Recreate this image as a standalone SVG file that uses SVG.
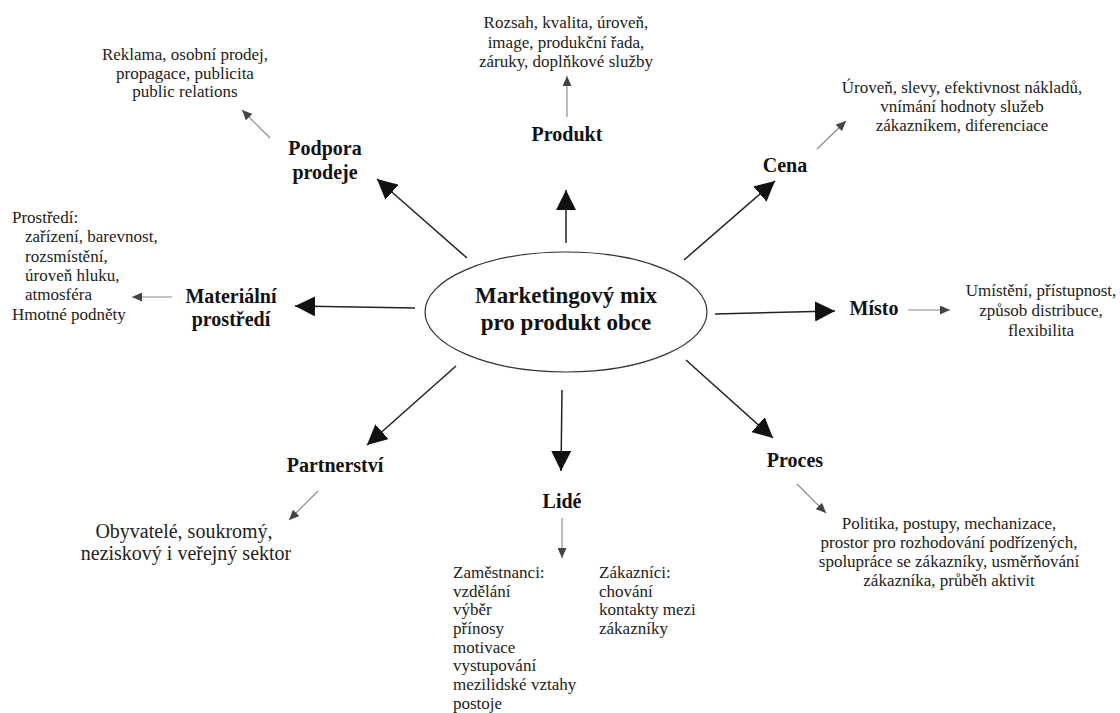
<svg xmlns="http://www.w3.org/2000/svg" width="1120" height="713" viewBox="0 0 1120 713">
<defs>
<marker id="big" markerUnits="userSpaceOnUse" markerWidth="20" markerHeight="20" refX="20" refY="10" orient="auto">
<path d="M0,0 L20,10 L0,20 z" fill="#111"/>
</marker>
<marker id="small" markerUnits="userSpaceOnUse" markerWidth="10" markerHeight="9" refX="10" refY="4.5" orient="auto">
<path d="M0,0 L10,4.5 L0,9 z" fill="#444"/>
</marker>
<style>
.t{font-family:"Liberation Serif","Times New Roman",serif;font-size:17px;fill:#222}
.c{text-anchor:middle}
.big{font-size:20px}
.b{font-family:"Liberation Serif","Times New Roman",serif;font-size:20px;font-weight:bold;fill:#111;text-anchor:middle}
.main{font-family:"Liberation Serif","Times New Roman",serif;font-size:23px;font-weight:bold;fill:#111;text-anchor:middle}
.m{stroke:#222;stroke-width:1.5;fill:none;marker-end:url(#big)}
.s{stroke:#888;stroke-width:1.1;fill:none;marker-end:url(#small)}
</style>
</defs>
<rect width="1120" height="713" fill="#fff"/>

<g id="center">
<ellipse cx="566" cy="312" rx="141" ry="60" fill="none" stroke="#333" stroke-width="1.2"/>
<text class="main" x="566" y="303">Marketingový mix</text>
<text class="main" x="566" y="330">pro produkt obce</text>
</g>

<g id="connectors">
<line class="m" x1="566" y1="243" x2="566" y2="190"/>
<line class="m" x1="684" y1="260" x2="775" y2="181"/>
<line class="m" x1="715" y1="314" x2="835" y2="311"/>
<line class="m" x1="686" y1="360" x2="773" y2="438"/>
<line class="m" x1="562" y1="390" x2="561" y2="471"/>
<line class="m" x1="456" y1="366" x2="367" y2="445"/>
<line class="m" x1="415" y1="308" x2="295" y2="306"/>
<line class="m" x1="467" y1="258" x2="377" y2="179"/>
<line class="s" x1="567" y1="117" x2="567" y2="76"/>
<line class="s" x1="817" y1="149" x2="846" y2="121"/>
<line class="s" x1="908" y1="310" x2="950" y2="310"/>
<line class="s" x1="797" y1="484" x2="826" y2="513"/>
<line class="s" x1="562" y1="518" x2="562" y2="558"/>
<line class="s" x1="318" y1="491" x2="289" y2="520"/>
<line class="s" x1="172" y1="297" x2="132" y2="297"/>
<line class="s" x1="270" y1="138" x2="242" y2="110"/>
</g>

<g id="produkt">
<text class="b" x="567" y="141">Produkt</text>
<text class="t c" x="566" y="28">Rozsah, kvalita, úroveň,</text>
<text class="t c" x="566" y="48">image, produkční řada,</text>
<text class="t c" x="566" y="67">záruky, doplňkové služby</text>
</g>

<g id="cena">
<text class="b" x="785" y="172">Cena</text>
<text class="t c" x="962" y="93">Úroveň, slevy, efektivnost nákladů,</text>
<text class="t c" x="962" y="112">vnímání hodnoty služeb</text>
<text class="t c" x="962" y="131">zákazníkem, diferenciace</text>
</g>

<g id="misto">
<text class="b" x="874" y="315">Místo</text>
<text class="t c" x="1041" y="296">Umístění, přístupnost,</text>
<text class="t c" x="1041" y="316">způsob distribuce,</text>
<text class="t c" x="1041" y="336">flexibilita</text>
</g>

<g id="proces">
<text class="b" x="795" y="467">Proces</text>
<text class="t c" x="949" y="529">Politika, postupy, mechanizace,</text>
<text class="t c" x="949" y="548">prostor pro rozhodování podřízených,</text>
<text class="t c" x="949" y="567">spolupráce se zákazníky, usměrňování</text>
<text class="t c" x="949" y="586">zákazníka, průběh aktivit</text>
</g>

<g id="lide">
<text class="b" x="562" y="508">Lidé</text>
<text class="t" x="453"><tspan x="453" y="578">Zaměstnanci:</tspan><tspan x="453" y="597">vzdělání</tspan><tspan x="453" y="615">výběr</tspan><tspan x="453" y="634">přínosy</tspan><tspan x="453" y="653">motivace</tspan><tspan x="453" y="671">vystupování</tspan><tspan x="453" y="690">mezilidské vztahy</tspan><tspan x="453" y="709">postoje</tspan></text>
<text class="t" x="599"><tspan x="599" y="578">Zákazníci:</tspan><tspan x="599" y="597">chování</tspan><tspan x="599" y="615">kontakty mezi</tspan><tspan x="599" y="634">zákazníky</tspan></text>
</g>

<g id="partnerstvi">
<text class="b" x="335" y="472">Partnerství</text>
<text class="t c big" x="184" y="538">Obyvatelé, soukromý,</text>
<text class="t c big" x="186" y="560">neziskový i veřejný sektor</text>
</g>

<g id="materialni">
<text class="b" x="231" y="303">Materiální</text>
<text class="b" x="231" y="326">prostředí</text>
<text class="t"><tspan x="12" y="223">Prostředí:</tspan><tspan x="25" y="242">zařízení, barevnost,</tspan><tspan x="25" y="262">rozsmístění,</tspan><tspan x="25" y="281">úroveň hluku,</tspan><tspan x="25" y="300">atmosféra</tspan><tspan x="12" y="320">Hmotné podněty</tspan></text>
</g>

<g id="podpora">
<text class="b" x="325" y="155">Podpora</text>
<text class="b" x="325" y="179">prodeje</text>
<text class="t c" x="185" y="60">Reklama, osobní prodej,</text>
<text class="t c" x="185" y="79">propagace, publicita</text>
<text class="t c" x="185" y="97">public relations</text>
</g>
</svg>
